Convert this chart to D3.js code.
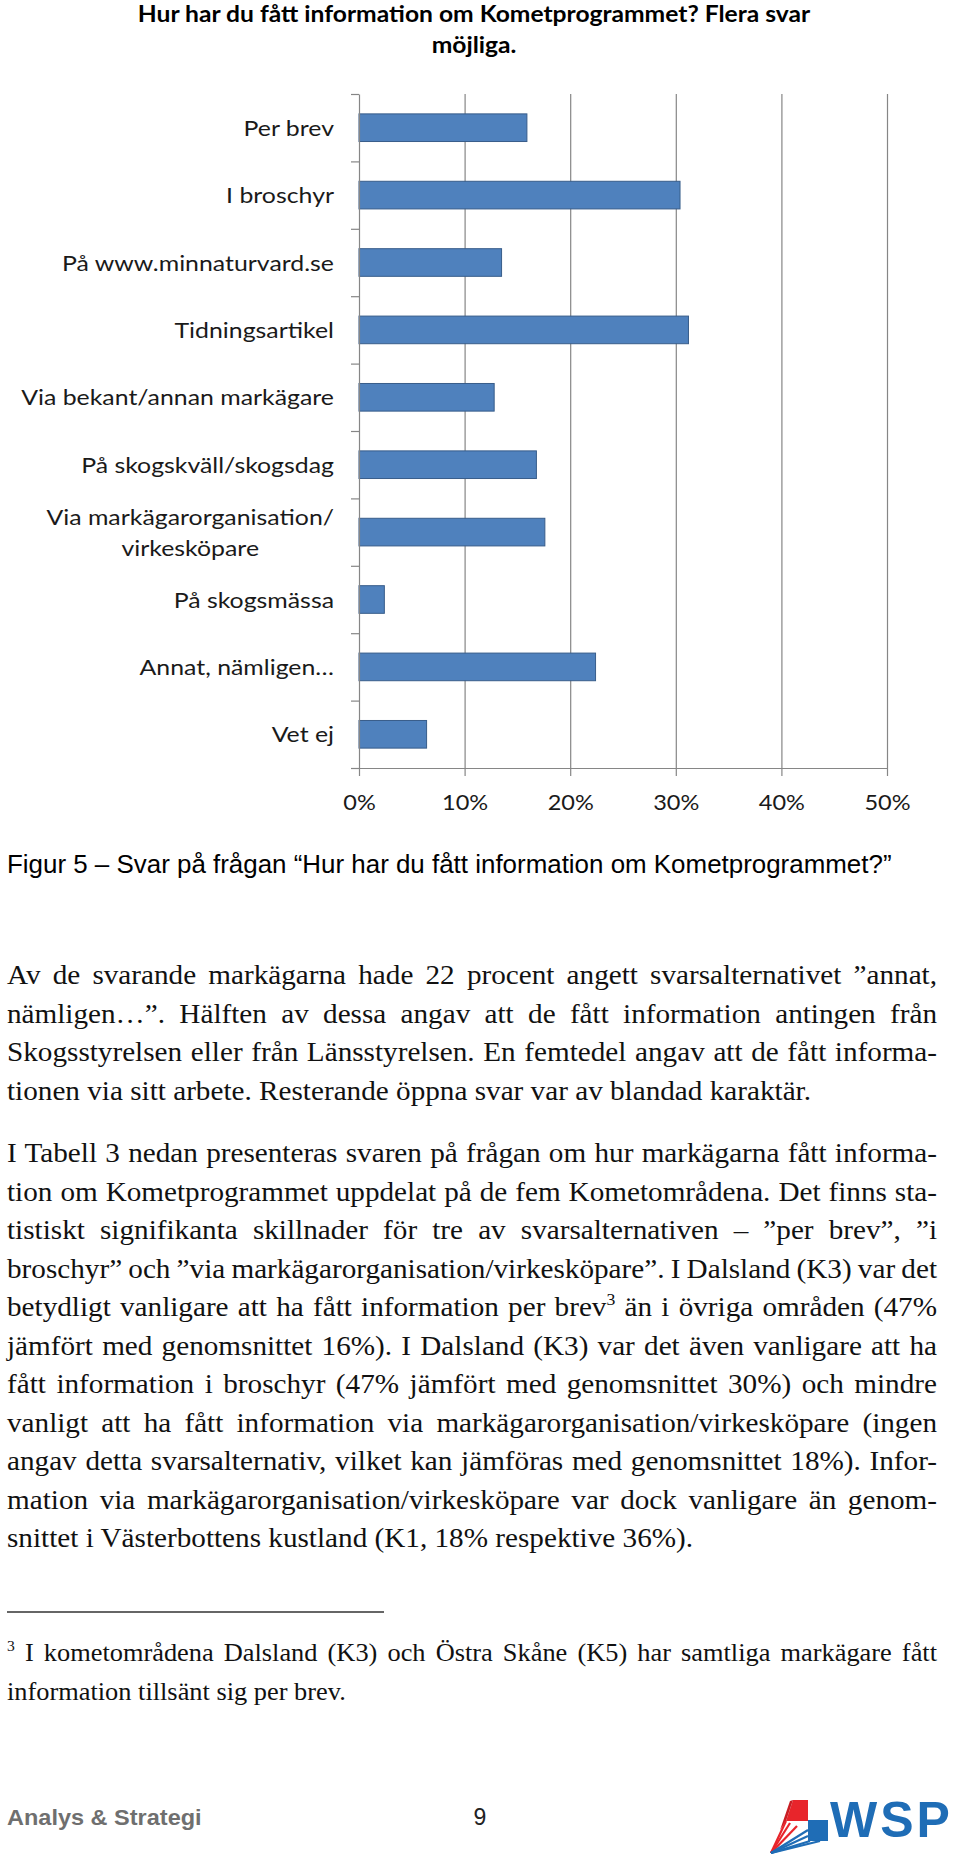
<!DOCTYPE html>
<html>
<head>
<meta charset="utf-8">
<script src="https://cdn.jsdelivr.net/npm/d3@7"></script>
<style>
  html, body { margin: 0; padding: 0; background: #fff; }
  svg { display: block; }
</style>
</head>
<body>
<svg id="page" width="960" height="1854"></svg>
<script>
// ---------- DATA ----------
const titleLines = ["Hur har du fått information om Kometprogrammet? Flera svar", "möjliga."];
const categories = [
  "Per brev", "I broschyr", "På www.minnaturvard.se", "Tidningsartikel",
  "Via bekant/annan markägare", "På skogskväll/skogsdag",
  "Via markägarorganisation/ virkesköpare", "På skogsmässa",
  "Annat, nämligen…", "Vet ej"
];
const categoryLabelLines = [
  ["Per brev"], ["I broschyr"], ["På www.minnaturvard.se"], ["Tidningsartikel"],
  ["Via bekant/annan markägare"], ["På skogskväll/skogsdag"],
  ["Via markägarorganisation/", "virkesköpare"], ["På skogsmässa"],
  ["Annat, nämligen…"], ["Vet ej"]
];
const values = [15.9, 30.4, 13.5, 31.2, 12.8, 16.8, 17.6, 2.4, 22.4, 6.4]; // percent
const xTicks = [0, 10, 20, 30, 40, 50];
const xTickLabels = ["0%", "10%", "20%", "30%", "40%", "50%"];

const caption = "Figur 5 – Svar på frågan “Hur har du fått information om Kometprogrammet?”";
const paragraph1 = [
  "Av de svarande markägarna hade 22 procent angett svarsalternativet ”annat,",
  "nämligen…”. Hälften av dessa angav att de fått information antingen från",
  "Skogsstyrelsen eller från Länsstyrelsen. En femtedel angav att de fått informa-",
  "tionen via sitt arbete. Resterande öppna svar var av blandad karaktär."
];
const paragraph2 = [
  "I Tabell 3 nedan presenteras svaren på frågan om hur markägarna fått informa-",
  "tion om Kometprogrammet uppdelat på de fem Kometområdena. Det finns sta-",
  "tistiskt signifikanta skillnader för tre av svarsalternativen – ”per brev”, ”i",
  "broschyr” och ”via markägarorganisation/virkesköpare”. I Dalsland (K3) var det",
  "betydligt vanligare att ha fått information per brev^3 än i övriga områden (47%",
  "jämfört med genomsnittet 16%). I Dalsland (K3) var det även vanligare att ha",
  "fått information i broschyr (47% jämfört med genomsnittet 30%) och mindre",
  "vanligt att ha fått information via markägarorganisation/virkesköpare (ingen",
  "angav detta svarsalternativ, vilket kan jämföras med genomsnittet 18%). Infor-",
  "mation via markägarorganisation/virkesköpare var dock vanligare än genom-",
  "snittet i Västerbottens kustland (K1, 18% respektive 36%)."
];
const footnote = [
  "^3 I kometområdena Dalsland (K3) och Östra Skåne (K5) har samtliga markägare fått",
  "information tillsänt sig per brev."
];
const footerLeft = "Analys & Strategi";
const pageNumber = "9";
const logoText = "WSP";

// ---------- LAYOUT ----------
const svg = d3.select("#page");
const plot = { left: 359, right: 887, top: 94, bottom: 768 };
const labelFont = "Lato, 'Open Sans', sans-serif";
const sansFont = "'Liberation Sans', Arial, sans-serif";
const axisColor = "#868686";

// Title
svg.append("g").selectAll("text").data(titleLines).join("text")
  .attr("transform", (d, i) => `translate(474,${22 + i * 31}) scale(1.095,1)`)
  .attr("text-anchor", "middle")
  .attr("font-family", labelFont).attr("font-weight", 700)
  .attr("font-size", 22.5).attr("fill", "#000")
  .text(d => d);

const x = d3.scaleLinear().domain([0, 50]).range([plot.left, plot.right]);
const y = d3.scaleBand().domain(categories).range([plot.top, plot.bottom])
  .paddingInner(0.59).paddingOuter(0.295);
const yIdx = d3.scaleLinear().domain([0, categories.length]).range([plot.top, plot.bottom]);

// Gridlines
svg.append("g").attr("class", "grid")
  .attr("transform", `translate(0,${plot.bottom})`)
  .call(d3.axisBottom(x).tickValues(xTicks.slice(1)).tickSize(-(plot.bottom - plot.top)).tickFormat(""))
  .call(g => g.select(".domain").remove())
  .call(g => g.selectAll("line").attr("stroke", axisColor).attr("stroke-width", 1.2));

// Bars
svg.append("g").selectAll("rect").data(categories).join("rect")
  .attr("x", x(0))
  .attr("y", d => y(d))
  .attr("width", (d, i) => x(values[i]) - x(0))
  .attr("height", y.bandwidth())
  .attr("fill", "#4F81BD")
  .attr("stroke", "#385D8A")
  .attr("stroke-width", 1);

// Y axis (ticks between categories)
svg.append("g")
  .attr("transform", `translate(${plot.left},0)`)
  .call(d3.axisLeft(yIdx).tickValues(d3.range(0, categories.length + 1)).tickSize(8).tickSizeOuter(0).tickFormat(""))
  .call(g => g.selectAll("line, path").attr("stroke", axisColor).attr("stroke-width", 1.2));

// X axis
const xAxis = svg.append("g")
  .attr("transform", `translate(0,${plot.bottom})`)
  .call(d3.axisBottom(x).tickValues(xTicks).tickSize(8).tickSizeOuter(0).tickPadding(10)
    .tickFormat((d, i) => xTickLabels[i]));
xAxis.selectAll("line, path").attr("stroke", axisColor).attr("stroke-width", 1.2);
xAxis.selectAll("text")
  .attr("font-family", labelFont).attr("font-size", 22).attr("fill", "#1a1a1a")
  .attr("dy", null).attr("y", 0)
  .attr("transform", "translate(0,42) scale(1.07,1)");

// Category labels
const labelRight = 334;
const labSX = 1.13;
const labG = svg.append("g");
categories.forEach((c, i) => {
  const lines = categoryLabelLines[i];
  const cy = y(c) + y.bandwidth() / 2;
  const n = lines.length;
  const lh = 31;
  const y0 = cy + 8 - (n - 1) * lh / 2;
  const first = labG.append("text")
    .attr("transform", `translate(${labelRight},${y0}) scale(${labSX},1)`)
    .attr("text-anchor", "end")
    .attr("font-family", labelFont).attr("font-size", 22).attr("fill", "#1a1a1a")
    .text(lines[0]);
  if (n > 1) {
    const w = first.node().getComputedTextLength() * labSX;
    for (let k = 1; k < n; k++) {
      labG.append("text")
        .attr("transform", `translate(${labelRight - w / 2},${y0 + k * lh}) scale(${labSX},1)`)
        .attr("text-anchor", "middle")
        .attr("font-family", labelFont).attr("font-size", 22).attr("fill", "#1a1a1a")
        .text(lines[k]);
    }
  }
});

// Caption
svg.append("text")
  .attr("transform", "translate(7,873) scale(1.017,1)")
  .attr("font-family", sansFont)
  .attr("font-size", 25.5).attr("fill", "#000")
  .text(caption);

// Body text
const serif = "'Liberation Serif', 'Times New Roman', serif";
const bodySX = 1.043;
const textLeft = 7, textRight = 937;

function addLine(str, yy, justify, size) {
  const t = svg.append("text")
    .attr("transform", `translate(${textLeft},${yy}) scale(${bodySX},1)`)
    .attr("font-family", serif).attr("font-size", size).attr("fill", "#111");
  const parts = str.split("^3");
  const supSize = Math.round(size * 0.6);
  const shift = Math.round(size * 0.4);
  parts.forEach((p, k) => {
    if (k > 0) {
      t.append("tspan").attr("dy", -shift).attr("font-size", supSize).text("3");
      t.append("tspan").attr("dy", shift).text(p);
    } else if (p.length) {
      t.append("tspan").text(p);
    }
  });
  if (justify) {
    const natural = t.node().getComputedTextLength();
    const spaces = (str.match(/ /g) || []).length;
    const target = (textRight - textLeft) / bodySX;
    if (spaces > 0) t.style("word-spacing", ((target - natural) / spaces) + "px");
  }
  return t;
}

const lh = 38.5;
paragraph1.forEach((s, i) => addLine(s, 984 + i * lh, i < paragraph1.length - 1, 28));
paragraph2.forEach((s, i) => addLine(s, 1162 + i * lh, i < paragraph2.length - 1, 28));

// Footnote rule
svg.append("line").attr("x1", 7).attr("x2", 384).attr("y1", 1612).attr("y2", 1612)
  .attr("stroke", "#333").attr("stroke-width", 1.5);
footnote.forEach((s, i) => addLine(s, 1661 + i * 39, i < footnote.length - 1, 25.3));

// Footer
svg.append("text")
  .attr("transform", "translate(7,1825) scale(1.045,1)")
  .attr("font-family", sansFont).attr("font-weight", 700)
  .attr("font-size", 22.5).attr("fill", "#6f6f6f").text(footerLeft);
svg.append("text").attr("x", 480).attr("y", 1825).attr("text-anchor", "middle")
  .attr("font-family", sansFont)
  .attr("font-size", 23).attr("fill", "#222").text(pageNumber);

// WSP logo
const logo = svg.append("g");
const blue = "#1f6db6", red = "#e8252b";
logo.append("polygon").attr("points", "793,1800 808,1800 808,1821 786,1821").attr("fill", red);
logo.append("polygon").attr("points", "793,1800 786,1821 780,1830 790,1801").attr("fill", "#c81e24");
logo.append("polygon").attr("points", "808,1820 828,1820 828,1841 808,1841").attr("fill", blue);
logo.append("polygon").attr("points", "786,1821 808,1821 808,1841 772,1853").attr("fill", "#fff");
[[786,1821,"#e8252b"],[790,1823,"#e8252b"],[797,1826,"#e8252b"],[808,1830,blue],[808,1836,blue],[810,1841,blue],[820,1841,blue]]
  .forEach(([x2, y2, c]) => logo.append("line").attr("x1", 771).attr("y1", 1853).attr("x2", x2).attr("y2", y2)
    .attr("stroke", c).attr("stroke-width", 2.2));
logo.append("text").attr("x", 830).attr("y", 1837)
  .attr("font-family", sansFont).attr("font-weight", 700)
  .attr("font-size", 50).attr("letter-spacing", 3).attr("fill", blue).text(logoText);
</script>
</body>
</html>
